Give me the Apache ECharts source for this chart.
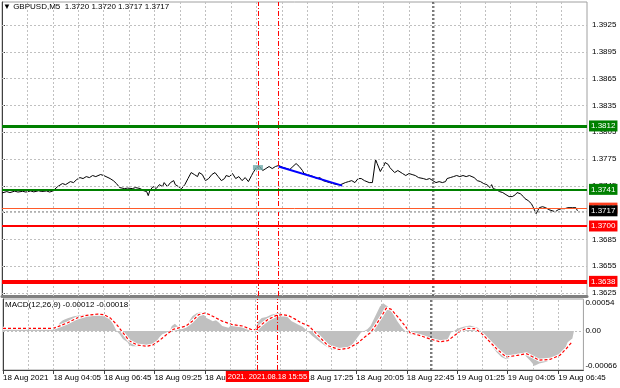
<!DOCTYPE html>
<html><head><meta charset="utf-8">
<script src="https://cdn.jsdelivr.net/npm/echarts@6/dist/echarts.min.js"></script>
<style>html,body{margin:0;padding:0;background:#fff}#c{width:620px;height:388px}</style>
</head><body><div id="c"></div>
<script>
// ---------- DATA ----------
const priceIdx = [0,3,5,8,10,13,15,18,20,23,25,28,30,32,35,36,38,40,43,45,47,49,51,53,55,57,59,62,64,65,68,70,72,74,77,79,82,84,87,89,91,92,93,95,97,99,101,102,104,106,108,109,111,113,115,117,119,121,123,124,126,128,130,132,134,136,138,140,141,143,145,147,149,151,153,155,157,158,160,162,164,166,168,170,172,174,175,177,179,181,183,185,187,189,190,192,194,196,198,200,202,204,206,208,211,213,214,216,218,220,222,224,226,228,229,231,233,234,235,236,238,239,240,241,243,244,245,247,249,250,252,254,256,258,260,262,263,265,267,269,271,273,275,277,279,280,282,284,286,288,290,292,294,295,297,299,301,303,305,307,308,309,311,313,315,317,319,321,323,324,326,328,329,331,333,334,336,337,338,340,342,344,346,348,350,352,354,356,357,359,361,362];
const priceVal = [1.37370,1.37385,1.37374,1.37390,1.37380,1.37388,1.37380,1.37392,1.37382,1.37394,1.37386,1.37392,1.37380,1.37392,1.37441,1.37463,1.37475,1.37463,1.37497,1.37486,1.37520,1.37542,1.37531,1.37553,1.37542,1.37565,1.37553,1.37576,1.37565,1.37553,1.37531,1.37508,1.37475,1.37430,1.37419,1.37424,1.37419,1.37430,1.37419,1.37396,1.37385,1.37340,1.37396,1.37441,1.37419,1.37463,1.37441,1.37486,1.37441,1.37486,1.37508,1.37463,1.37441,1.37419,1.37463,1.37531,1.37598,1.37576,1.37553,1.37598,1.37576,1.37508,1.37531,1.37576,1.37598,1.37553,1.37508,1.37531,1.37565,1.37553,1.37587,1.37531,1.37553,1.37508,1.37542,1.37497,1.37565,1.37598,1.37654,1.37666,1.37621,1.37643,1.37666,1.37643,1.37666,1.37677,1.37666,1.37654,1.37643,1.37632,1.37666,1.37699,1.37666,1.37621,1.37587,1.37576,1.37565,1.37553,1.37531,1.37542,1.37508,1.37497,1.37486,1.37475,1.37463,1.37463,1.37452,1.37486,1.37497,1.37508,1.37486,1.37531,1.37531,1.37508,1.37486,1.37486,1.37486,1.37497,1.37744,1.37699,1.37610,1.37643,1.37666,1.37711,1.37688,1.37654,1.37632,1.37598,1.37621,1.37610,1.37587,1.37565,1.37587,1.37576,1.37565,1.37542,1.37553,1.37531,1.37520,1.37531,1.37508,1.37486,1.37497,1.37486,1.37497,1.37531,1.37542,1.37553,1.37565,1.37553,1.37565,1.37553,1.37565,1.37576,1.37542,1.37508,1.37497,1.37475,1.37463,1.37430,1.37463,1.37419,1.37407,1.37385,1.37374,1.37351,1.37329,1.37329,1.37351,1.37374,1.37362,1.37329,1.37306,1.37284,1.37250,1.37216,1.37138,1.37171,1.37205,1.37216,1.37205,1.37183,1.37171,1.37160,1.37183,1.37194,1.37194,1.37205,1.37216,1.37205,1.37205,1.37170];

const macdIdx = [0,11,24,32,35,36,38,41,45,51,57,62,66,68,70,72,74,76,79,80,82,87,91,95,97,99,101,104,106,107,109,111,113,116,118,120,123,124,126,129,131,133,135,137,139,143,145,148,150,154,156,158,160,162,164,167,170,175,177,179,181,183,185,187,190,193,196,200,204,208,213,217,221,224,227,229,231,233,236,239,241,244,247,250,253,255,258,263,267,271,275,280,282,284,286,288,292,296,301,303,305,309,313,316,319,323,326,330,334,337,340,344,349,353,356,358,361,362];
const macdVal = [0.000050,0.000044,0.000050,0.000044,0.000083,0.000138,0.000182,0.000215,0.000248,0.000275,0.000292,0.000292,0.000259,0.000193,0.000110,0,-0.000055,-0.000138,-0.000193,-0.000237,-0.000259,-0.000259,-0.000237,-0.000220,-0.000193,-0.000110,-0.000055,-0.000028,0.000017,0.000083,0.000121,0.000072,0.000028,0.000055,0.000165,0.000248,0.000303,0.000330,0.000314,0.000220,0.000193,0.000165,0.000182,0.000138,0.000083,0.000055,0.000110,0.000121,0.000094,0.000072,0.000028,0,0.000039,0.000165,0.000220,0.000237,0.000275,0.000303,0.000292,0.000275,0.000220,0.000165,0.000138,0.000110,0.000072,0,-0.000083,-0.000165,-0.000248,-0.000303,-0.000330,-0.000303,-0.000248,-0.000138,-0.000028,0,0.000028,0.000083,0.000248,0.000413,0.000468,0.000413,0.000303,0.000165,0.000055,0,-0.000055,-0.000083,-0.000110,-0.000138,-0.000182,-0.000193,-0.000138,-0.000028,0,0.000039,0.000072,0.000094,0.000055,0,-0.000083,-0.000220,-0.000358,-0.000440,-0.000479,-0.000440,-0.000385,-0.000385,-0.000495,-0.000589,-0.000550,-0.000523,-0.000468,-0.000413,-0.000330,-0.000193,-0.000127,-0.000120];

const signalIdx = [0,32,41,47,53,60,64,68,72,76,80,85,91,95,99,104,108,112,116,120,124,128,131,135,139,145,152,158,161,164,168,173,177,181,185,189,194,200,206,213,219,225,229,233,236,240,243,246,250,255,258,265,271,277,282,286,290,294,299,303,307,313,319,326,332,336,340,347,353,357,361];
const signalVal = [0.000044,0.000044,0.000138,0.000220,0.000264,0.000286,0.000275,0.000220,0.000110,-0.000028,-0.000165,-0.000237,-0.000259,-0.000237,-0.000165,-0.000055,0.000028,0.000055,0.000083,0.000165,0.000275,0.000303,0.000275,0.000220,0.000165,0.000110,0.000083,0.000017,0.000028,0.000110,0.000193,0.000259,0.000275,0.000259,0.000204,0.000138,0.000083,-0.000083,-0.000248,-0.000314,-0.000292,-0.000204,-0.000110,-0.000028,0.000083,0.000248,0.000385,0.000369,0.000248,0.000083,-0.000028,-0.000083,-0.000138,-0.000182,-0.000165,-0.000083,0,0.000044,0.000039,-0.000028,-0.000138,-0.000303,-0.000440,-0.000413,-0.000385,-0.000440,-0.000495,-0.000479,-0.000413,-0.000303,-0.000180];

const trendIdx = [174, 214];
const trendVal = [1.37666, 1.37452];
const markerIdx = [161];
const markerVal = [1.37654];

const priceTicks = [1.3625,1.3655,1.3685,1.3715,1.3745,1.3775,1.3805,1.3835,1.3865,1.3895,1.3925];
const priceTickLabels = ['1.3625','1.3655','1.3685','1.3715','1.3745','1.3775','1.3805','1.3835','1.3865','1.3895','1.3925'];
const macdTicks = [-0.00066, 0, 0.00054];
const macdTickLabels = ['-0.00066','0.00','0.00054'];
const xTickIdx = [0,32,64,96,128,160,192,224,256,288,320,352];
const xTickLabels = ['18 Aug 2021','18 Aug 04:05','18 Aug 06:45','18 Aug 09:25','18 Aug 12:05','18 Aug 14:45','18 Aug 17:25','18 Aug 20:05','18 Aug 22:45','19 Aug 01:25','19 Aug 04:05','19 Aug 06:45'];

const levelVals = [1.3812, 1.3741, 1.3720, 1.3717, 1.3700, 1.3638];
const levelTexts = ['1.3812','1.3741','1.3720','1.3717','1.3700','1.3638'];
const vLineIdx = [161, 174];
const daySepIdx = [271];
const cursorIdx = 174;
const cursorText = '2021. 2021.08.18 15:55';
const titleText = '\u25BC GBPUSD,M5  1.3720 1.3720 1.3717 1.3717';
const macdTitle = 'MACD(12,26,9) -0.00012 -0.00018';

// ---------- STYLE / LAYOUT ----------
const FONT = '"Liberation Sans",Arial,sans-serif';
const FS = 8;
const X_MAX = 368, X_STEP = 16;
const vGridIdx = [];
for (let k = X_STEP; k < X_MAX; k += X_STEP) vGridIdx.push(k);
const levelStyle = [
  {c:'#008000', w:3, bg:'#008000', fg:'#fff', t:'solid'},
  {c:'#008000', w:2, bg:'#008000', fg:'#fff', t:'solid'},
  {c:'#ff5a2a', w:1, bg:'#ff4020', fg:'#fff', t:'solid'},
  {c:'#b0b0b0', w:1, bg:'#000000', fg:'#fff', t:[2,2]},
  {c:'#ff0000', w:2, bg:'#ff0000', fg:'#fff', t:'solid'},
  {c:'#ff0000', w:4, bg:'#ff0000', fg:'#fff', t:'solid'}
];
const zip = (a, b) => a.map((x, i) => [x, b[i]]);
const hDot = {color:'#c0c0c0', type:[2,2], width:1};
const vDot = {color:'#c0c0c0', type:[2,2], width:1};
const redDash = {color:'#ff0000', type:[5,2,1,2], width:1};
const daySep = {color:'#505050', type:[2,2], width:1.5};

const chart = echarts.init(document.getElementById('c'), null, {renderer:'canvas', width:620, height:388});

const xFmt = v => { const k = xTickIdx.indexOf(v); return k >= 0 ? xTickLabels[k] : ''; };
const pFmt = v => { const k = priceTicks.indexOf(v); return k >= 0 ? priceTickLabels[k] : ''; };
const mFmt = v => { const k = macdTicks.indexOf(v); return k >= 0 ? macdTickLabels[k] : ''; };

const vGridLines = vGridIdx.filter(v => daySepIdx.indexOf(v) < 0).map(v => ({xAxis: v, lineStyle: vDot}));

const option = {
  animation: false,
  backgroundColor: '#ffffff',
  textStyle: {fontFamily: FONT},
  title: [
    {text: titleText, left: 3, top: 3, padding: 0, textStyle: {fontSize: FS, fontWeight: 'normal', color: '#000', fontFamily: FONT}},
    {text: macdTitle, left: 5, top: 301, padding: 0, textStyle: {fontSize: FS, fontWeight: 'normal', color: '#000', fontFamily: FONT}}
  ],
  grid: [
    {left: 2, right: 33, top: 2, height: 294, show: true, borderColor: '#a0a0a0', borderWidth: 1, backgroundColor: 'transparent'},
    {left: 2, right: 33, top: 299, height: 71, show: true, borderColor: '#a0a0a0', borderWidth: 1, backgroundColor: 'transparent'}
  ],
  xAxis: [
    {type: 'value', gridIndex: 0, min: 0, max: X_MAX, interval: X_STEP,
     axisLabel: {show: false}, axisTick: {show: false},
     axisLine: {show: true, onZero: false, lineStyle: {color: '#808080', width: 3}},
     splitLine: {show: false}},
    {type: 'value', gridIndex: 1, min: 0, max: X_MAX, interval: X_STEP,
     axisLine: {show: true, onZero: false, lineStyle: {color: '#404040', width: 1}},
     axisTick: {show: true, customValues: xTickIdx, length: 4, lineStyle: {color: '#404040'}},
     axisLabel: {show: true, customValues: xTickIdx, formatter: xFmt, align: 'left', margin: 4, fontSize: FS, color: '#000', fontFamily: FONT, showMinLabel: true, showMaxLabel: true, hideOverlap: false},
     splitLine: {show: false}}
  ],
  yAxis: [
    {type: 'value', gridIndex: 0, position: 'right', min: 1.36216, max: 1.39508,
     axisLine: {show: true, lineStyle: {color: '#404040'}},
     axisTick: {show: true, customValues: priceTicks, length: 3, lineStyle: {color: '#404040'}},
     axisLabel: {show: true, customValues: priceTicks, formatter: pFmt, margin: 5, fontSize: FS, color: '#000', align: 'left', fontFamily: FONT, hideOverlap: false},
     splitLine: {show: false}},
    {type: 'value', gridIndex: 1, position: 'right', min: -0.00066, max: 0.00054,
     axisLine: {show: true, lineStyle: {color: '#404040'}},
     axisTick: {show: false},
     axisLabel: {show: true, customValues: macdTicks, formatter: mFmt, margin: 2, fontSize: FS, color: '#000', align: 'left', fontFamily: FONT,
                 verticalAlignMinLabel: 'bottom', verticalAlignMaxLabel: 'top', hideOverlap: false},
     splitLine: {show: false}}
  ],
  series: [
    {type: 'line', xAxisIndex: 0, yAxisIndex: 0, data: [], silent: true, z: 1,
     markLine: {silent: true, precision: 6, symbol: ['none', 'none'], animation: false, label: {show: false},
       data: priceTicks.map(v => ({yAxis: v, lineStyle: hDot}))
         .concat(vGridLines)
         .concat(vLineIdx.map(v => ({xAxis: v, lineStyle: redDash})))
         .concat(daySepIdx.map(v => ({xAxis: v, lineStyle: daySep})))}},
    {type: 'line', xAxisIndex: 0, yAxisIndex: 0, data: zip(priceIdx, priceVal), showSymbol: false, symbol: 'none',
     lineStyle: {color: '#000', width: 1}, z: 3},
    {type: 'line', xAxisIndex: 0, yAxisIndex: 0, data: [], silent: true, z: 4,
     markLine: {silent: true, precision: 6, symbol: ['none', 'none'], animation: false,
       data: levelVals.map((v, i) => ({yAxis: v,
         lineStyle: {color: levelStyle[i].c, width: levelStyle[i].w, type: levelStyle[i].t},
         label: {show: true, position: 'end', distance: 2, formatter: levelTexts[i], color: levelStyle[i].fg,
                 backgroundColor: levelStyle[i].bg, padding: [1, 2, 0, 2], fontSize: FS, lineHeight: 10, fontFamily: FONT}}))}},
    {type: 'line', xAxisIndex: 0, yAxisIndex: 0, data: zip(trendIdx, trendVal), showSymbol: false, symbol: 'none',
     lineStyle: {color: '#0000ff', width: 2}, z: 5},
    {type: 'scatter', xAxisIndex: 0, yAxisIndex: 0, data: zip(markerIdx, markerVal), symbol: 'rect', symbolSize: [10, 5],
     itemStyle: {color: '#6ea8a8'}, z: 5},
    {type: 'line', xAxisIndex: 1, yAxisIndex: 1, data: [], silent: true, z: 1,
     markLine: {silent: true, precision: 8, symbol: ['none', 'none'], animation: false, label: {show: false},
       data: [{yAxis: 0, lineStyle: hDot}]
         .concat(vGridLines)
         .concat(daySepIdx.map(v => ({xAxis: v, lineStyle: daySep})))}},
    {type: 'line', xAxisIndex: 1, yAxisIndex: 1, data: zip(macdIdx, macdVal), showSymbol: false, symbol: 'none',
     lineStyle: {width: 0, color: '#c0c0c0'}, areaStyle: {color: '#c0c0c0', opacity: 1, origin: 0}, z: 2},
    {type: 'line', xAxisIndex: 1, yAxisIndex: 1, data: zip(signalIdx, signalVal), showSymbol: false, symbol: 'none',
     lineStyle: {color: '#ffffff', width: 3}, z: 3},
    {type: 'line', xAxisIndex: 1, yAxisIndex: 1, data: zip(signalIdx, signalVal), showSymbol: false, symbol: 'none',
     lineStyle: {color: '#ff0000', width: 1.2, type: [3, 2]}, z: 4},
    {type: 'line', xAxisIndex: 1, yAxisIndex: 1, data: [], silent: true, z: 6,
     markLine: {silent: true, precision: 6, symbol: ['none', 'none'], animation: false,
       data: vLineIdx.map(v => ({xAxis: v, lineStyle: redDash,
         label: v === cursorIdx ? {show: true, position: 'start', distance: 1, offset: [-10, 0], formatter: cursorText,
           color: '#fff', backgroundColor: '#ff0000', padding: [1, 2, 0, 2], fontSize: 7.5, lineHeight: 10, fontFamily: FONT} : {show: false}}))}}
  ]
};
chart.setOption(option);
</script>
</body></html>
